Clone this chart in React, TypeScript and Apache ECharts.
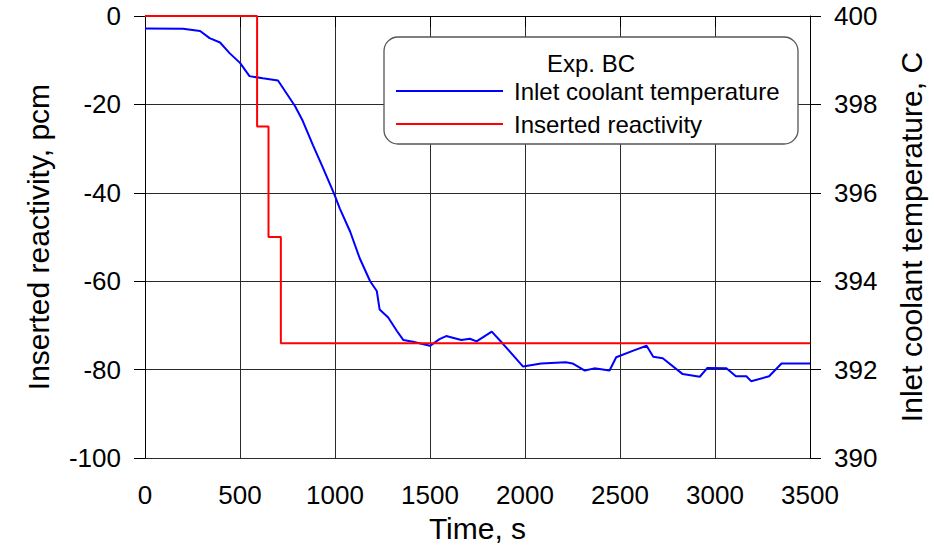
import React, { useEffect, useRef } from "react";
import * as echarts from "echarts";

// Inserted reactivity (pcm), step changes
const reactivityTime = [0, 590, 650, 715, 3500];
const reactivityValue = [0, -25, -50, -74, -74];

// Inlet coolant temperature (C)
const tempTime = [
  0, 200, 290, 340, 395, 445, 500, 550, 620, 700, 790, 830, 885, 935, 995, 1025,
  1080, 1130, 1185, 1220, 1235, 1280, 1325, 1360, 1410, 1500, 1550, 1585, 1665,
  1710, 1745, 1825, 1885, 1990, 2085, 2215, 2250, 2315, 2365, 2445, 2480, 2570,
  2640, 2675, 2725, 2830, 2920, 2960, 3060, 3110, 3165, 3190, 3285, 3350, 3500,
];
const tempValue = [
  399.72, 399.71, 399.66, 399.5, 399.4, 399.16, 398.94, 398.64, 398.59, 398.54,
  397.96, 397.63, 397.07, 396.58, 395.98, 395.65, 395.12, 394.52, 394.0, 393.78,
  393.36, 393.18, 392.88, 392.67, 392.63, 392.54, 392.69, 392.76, 392.67, 392.7,
  392.64, 392.86, 392.58, 392.07, 392.14, 392.17, 392.14, 391.98, 392.03, 391.98,
  392.28, 392.43, 392.54, 392.29, 392.26, 391.9, 391.84, 392.04, 392.03, 391.85,
  391.85, 391.74, 391.85, 392.14, 392.14,
];

const seriesNames = ["Inlet coolant temperature", "Inserted reactivity"];
const legendTitle = "Exp. BC";
const xTitle = "Time, s";
const yLeftTitle = "Inserted reactivity, pcm";
const yRightTitle = "Inlet coolant temperature, C";

const FONT = "'Liberation Sans', Arial, sans-serif";

export default function App() {
  const ref = useRef<HTMLDivElement>(null);
  useEffect(() => {
    if (!ref.current) return;
    const chart = echarts.init(ref.current, undefined, { renderer: "svg" });
    const axisLabel = {
      color: "#000",
      fontSize: 26,
      fontFamily: FONT,
      margin: 24,
      formatter: (v: number) => String(v),
    };
    const axisLine = { show: true, lineStyle: { color: "#000", width: 1 } };
    const axisTick = { show: true, inside: false, length: 11, lineStyle: { color: "#000", width: 1 } };
    const nameTextStyle = { color: "#000", fontSize: 30, fontFamily: FONT };
    const splitLine = { show: true, lineStyle: { color: "#2a2a2a", width: 1 } };
    chart.setOption({
      animation: false,
      backgroundColor: "#fff",
      grid: { left: 145, right: 123, top: 16, bottom: 86.5, containLabel: false },
      xAxis: {
        type: "value",
        min: 0,
        max: 3500,
        interval: 500,
        name: xTitle,
        nameLocation: "middle",
        nameGap: 52,
        nameTextStyle,
        axisLine,
        axisTick,
        axisLabel,
        splitLine,
      },
      yAxis: [
        {
          type: "value",
          position: "left",
          min: -100,
          max: 0,
          interval: 20,
          name: yLeftTitle,
          nameLocation: "middle",
          nameGap: 92,
          nameTextStyle,
          axisLine,
          axisTick,
          axisLabel,
          splitLine,
        },
        {
          type: "value",
          position: "right",
          min: 390,
          max: 400,
          interval: 2,
          name: yRightTitle,
          nameLocation: "middle",
          nameGap: 86,
          nameTextStyle,
          axisLine,
          axisTick,
          axisLabel,
          splitLine: { show: false },
        },
      ],
      legend: {
        data: seriesNames,
        orient: "vertical",
        left: 396,
        top: 79,
        padding: 0,
        itemGap: 9,
        itemWidth: 107,
        itemHeight: 2,
        icon: "rect",
        textStyle: { color: "#000", fontSize: 24, fontFamily: FONT, lineHeight: 24, padding: [0, 0, 0, 6] },
        z: 6,
      },
      graphic: {
        elements: [
          {
            type: "rect",
            z: 3,
            shape: { x: 384, y: 37, width: 414, height: 107, r: 14 },
            style: { fill: "#fff", stroke: "#555", lineWidth: 1.3 },
          },
          {
            type: "text",
            z: 6,
            x: 591,
            y: 63,
            style: {
              text: legendTitle,
              fill: "#000",
              font: `24px ${FONT}`,
              textAlign: "center",
              textVerticalAlign: "middle",
            },
          },
        ],
      },
      series: [
        {
          name: seriesNames[0],
          type: "line",
          yAxisIndex: 1,
          showSymbol: false,
          symbol: "none",
          color: "#0000ff",
          lineStyle: { color: "#0000ff", width: 2 },
          data: tempTime.map((t, i) => [t, tempValue[i]]),
        },
        {
          name: seriesNames[1],
          type: "line",
          yAxisIndex: 0,
          step: "end",
          showSymbol: false,
          symbol: "none",
          color: "#ff0000",
          lineStyle: { color: "#ff0000", width: 2 },
          data: reactivityTime.map((t, i) => [t, reactivityValue[i]]),
        },
      ],
    });
    return () => chart.dispose();
  }, []);
  return (
    <div
      ref={ref}
      style={{ position: "fixed", left: 0, top: 0, width: 934, height: 548, background: "#fff" }}
    />
  );
}
